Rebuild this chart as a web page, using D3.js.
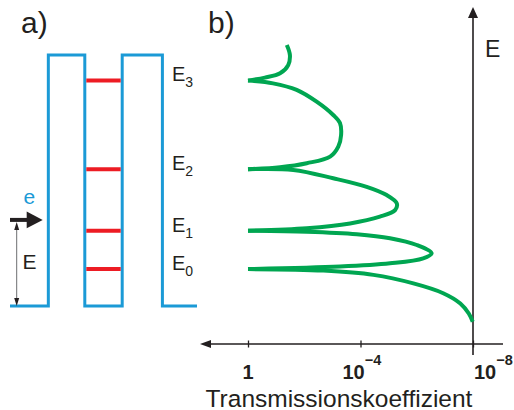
<!DOCTYPE html>
<html>
<head>
<meta charset="utf-8">
<script src="https://cdn.jsdelivr.net/npm/d3@7"></script>
<style>
  html, body { margin: 0; padding: 0; background: #fff; }
  svg { display: block; font-family: "Liberation Sans", Arial, sans-serif; }
</style>
</head>
<body>
<svg id="chart" width="514" height="410"></svg>
<script>
// Double-barrier potential profile (position in nm, potential in units of barrier height)
const profileX = [0, 2.05, 2.05, 4.0, 4.0, 6.0, 6.0, 8.15, 8.15, 10];
const profileV = [0, 0, 1, 1, 0, 0, 1, 1, 0, 0];

// Quasi-bound levels inside the well (units of barrier height)
const levelNames = ["0", "1", "2", "3"];
const levelE = [0.147, 0.300, 0.545, 0.898];

// Energy of the incoming electron
const electronE = 0.343;

// Transmission coefficient vs. energy: energy and log10(T)
const curveE = [1.040, 1.000, 0.960, 0.927, 0.910, 0.898, 0.887, 0.861, 0.814, 0.761, 0.729, 0.681,
  0.635, 0.595, 0.569, 0.553, 0.545, 0.542, 0.509, 0.475, 0.442, 0.409, 0.382, 0.356, 0.329,
  0.310, 0.300, 0.296, 0.286, 0.270, 0.243, 0.210, 0.190, 0.170, 0.157, 0.147, 0.141, 0.124,
  0.090, 0.051, 0.010, -0.030, -0.063];
const curveExp = [-1.38, -1.49, -1.43, -1.14, -0.60, 0, -0.89, -1.73, -2.44, -3.03, -3.27, -3.31,
  -3.21, -2.92, -2.09, -1.14, 0, -1.61, -3.03, -4.22, -4.93, -5.29, -5.23, -4.69, -3.63,
  -2.09, 0, -2.09, -3.87, -5.05, -6.00, -6.53, -6.23, -5.05, -3.27, 0, -2.68, -4.46,
  -5.88, -6.94, -7.55, -7.85, -7.99];

// Axis ticks of the transmission axis
const tickValues = [1, 1e-4, 1e-8];
const tickBase = ["1", "10", "10"];
const tickSup = ["", "\u22124", "\u22128"];

const BLUE = "#1b9ad6", RED = "#ed1c24", GREEN = "#00a651", INK = "#231f20";

const svg = d3.select("#chart");

// Shared energy scale for both panels
const yE = d3.scaleLinear().domain([0, 1]).range([306, 55]);

// ---------- Panel a: potential profile ----------
const xa = d3.scaleLinear().domain([0, 10]).range([10, 197]);

svg.append("text").attr("x", 21).attr("y", 33)
  .attr("font-size", 30).attr("fill", INK).text("a)");

svg.append("path")
  .datum(d3.range(profileX.length))
  .attr("d", d3.line().x(i => xa(profileX[i])).y(i => yE(profileV[i])))
  .attr("fill", "none").attr("stroke", BLUE).attr("stroke-width", 3)
  .attr("stroke-linejoin", "miter");

svg.append("g").selectAll("line").data(levelE).join("line")
  .attr("x1", xa(4.0) + 1.5).attr("x2", xa(6.0) - 1.5)
  .attr("y1", d => yE(d)).attr("y2", d => yE(d))
  .attr("stroke", RED).attr("stroke-width", 4);

const lab = svg.append("g").selectAll("text").data(levelE).join("text")
  .attr("x", 172).attr("y", d => yE(d) + 0.8)
  .attr("font-size", 20).attr("fill", INK);
lab.append("tspan").text("E");
lab.append("tspan").attr("font-size", 14).attr("dy", 6).text((d, i) => levelNames[i]);

// incoming electron
const ey = yE(electronE);
svg.append("line").attr("x1", 10).attr("x2", 28).attr("y1", ey).attr("y2", ey)
  .attr("stroke", INK).attr("stroke-width", 4);
svg.append("path")
  .attr("d", `M26.7,${ey - 8.3}L42.7,${ey}L26.7,${ey + 8.3}Z`).attr("fill", INK);
svg.append("text").attr("x", 23.5).attr("y", ey - 15.5)
  .attr("font-size", 21).attr("fill", BLUE).text("e");

// energy dimension arrow
const dx = 16.7, dTop = ey + 2, dBot = yE(0);
svg.append("line").attr("x1", dx).attr("x2", dx).attr("y1", dTop + 4).attr("y2", dBot - 4)
  .attr("stroke", "#6d6e71").attr("stroke-width", 1);
svg.append("path").attr("d", `M${dx},${dTop}L${dx + 2.5},${dTop + 8}L${dx - 2.5},${dTop + 8}Z`).attr("fill", INK);
svg.append("path").attr("d", `M${dx},${dBot}L${dx + 2.5},${dBot - 8}L${dx - 2.5},${dBot - 8}Z`).attr("fill", INK);
svg.append("text").attr("x", 22.5).attr("y", 268.5)
  .attr("font-size", 21).attr("fill", INK).text("E");

// ---------- Panel b: transmission coefficient ----------
const xT = d3.scaleLog().domain([1, 1e-8]).range([248, 473]);
const axisY = 344, axisX = xT(1e-8);

svg.append("text").attr("x", 208).attr("y", 33)
  .attr("font-size", 30).attr("fill", INK).text("b)");

// horizontal (transmission) axis
const ax = svg.append("g").attr("transform", `translate(0,${axisY})`)
  .call(d3.axisBottom(xT).tickValues(tickValues).tickSize(3.5).tickFormat(""));
ax.select(".domain").remove();
ax.selectAll(".tick line").attr("y1", -3.5).attr("stroke", INK).attr("stroke-width", 1.3);
svg.append("line").attr("x1", 208).attr("x2", 503).attr("y1", axisY).attr("y2", axisY)
  .attr("stroke", INK).attr("stroke-width", 1.6);
svg.append("path").attr("d", `M200,${axisY}L211,${axisY - 4}L211,${axisY + 4}Z`).attr("fill", INK);

// vertical (energy) axis
svg.append("line").attr("x1", axisX).attr("x2", axisX).attr("y1", 15).attr("y2", 355)
  .attr("stroke", INK).attr("stroke-width", 1.6);
svg.append("path").attr("d", `M${axisX},7L${axisX + 5},18L${axisX - 5},18Z`).attr("fill", INK);
svg.append("text").attr("x", 485).attr("y", 57)
  .attr("font-size", 23).attr("fill", INK).text("E");

// tick labels
const tickDx = [-5.5, -18, 1];
const tl = svg.append("g").selectAll("text").data(tickValues).join("text")
  .attr("x", (d, i) => xT(d) + tickDx[i]).attr("y", 379)
  .attr("font-size", 20).attr("font-weight", "bold").attr("fill", INK);
tl.append("tspan").text((d, i) => tickBase[i]);
tl.filter((d, i) => tickSup[i] !== "").append("tspan")
  .attr("dx", 0).attr("dy", -14).attr("font-size", 14.5).text(d => tickSup[tickValues.indexOf(d)]);

svg.append("text").attr("x", 339).attr("y", 406.5).attr("text-anchor", "middle")
  .attr("font-size", 24.5).attr("fill", INK).text("Transmissionskoeffizient");

// transmission curve, split into lobes at the resonance cusps (T = 1)
const pts = curveE.map((e, i) => ({ e, t: Math.pow(10, curveExp[i]) }));
const segments = [];
let cur = [];
pts.forEach((p, i) => {
  cur.push(p);
  if (curveExp[i] === 0 && cur.length > 1) { segments.push(cur); cur = [p]; }
});
if (cur.length > 1) segments.push(cur);

const line = d3.line().x(p => xT(p.t)).y(p => yE(p.e)).curve(d3.curveCatmullRom.alpha(0.5));
svg.append("g").selectAll("path").data(segments).join("path")
  .attr("d", line)
  .attr("fill", "none").attr("stroke", GREEN).attr("stroke-width", 4)
  .attr("stroke-linecap", "butt").attr("stroke-linejoin", "round");
</script>
</body>
</html>
